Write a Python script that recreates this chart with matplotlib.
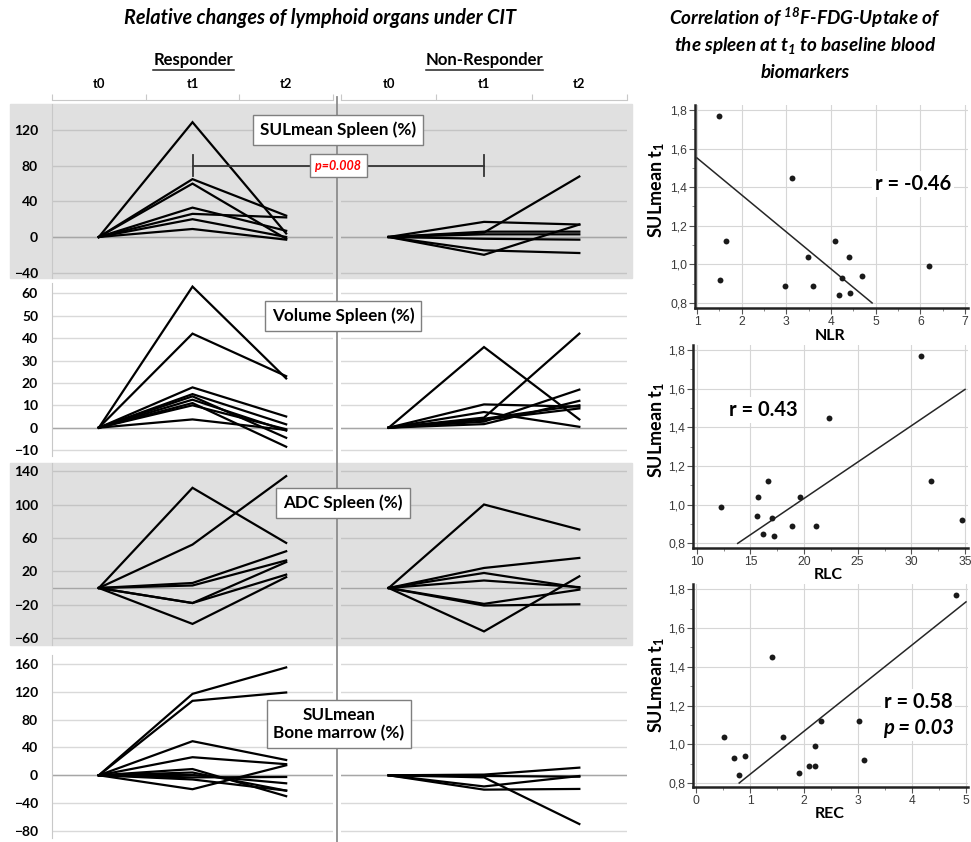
import matplotlib
matplotlib.use("Agg")
import matplotlib.pyplot as plt
from matplotlib.patches import Rectangle
from matplotlib.lines import Line2D
from matplotlib.ticker import FuncFormatter, MultipleLocator

plt.rcParams['font.family'] = ['Lato', 'DejaVu Sans']
plt.rcParams['mathtext.fontset'] = 'custom'
plt.rcParams['mathtext.rm'] = 'Lato'
plt.rcParams['mathtext.bf'] = 'Lato:bold'
plt.rcParams['mathtext.it'] = 'Lato:italic'
plt.rcParams['mathtext.bfit'] = 'Lato:bold:italic'

# ---------------- data ----------------
timepoints = ['t0', 't1', 't2']
groups = ['Responder', 'Non-Responder']
panel_titles = ['SULmean Spleen (%)', 'Volume Spleen (%)', 'ADC Spleen (%)',
                'SULmean\nBone marrow (%)']

sul_spleen_resp = [[0, 129, 4], [0, 65, 24], [0, 60, -2], [0, 33, 7],
                   [0, 26, 22], [0, 20, 0], [0, 9, -3]]
sul_spleen_nonresp = [[0, 17, 14], [0, 5, 68], [0, -20, 14], [0, -15, -18],
                      [0, 6, 6], [0, 3, 3], [0, -2, -3]]

volume_resp = [[0, 63, 22], [0, 42, 23], [0, 18, 5], [0, 15, 1.5], [0, 14, -4.5],
               [0, 12.5, -1.3], [0, 11, -8.5], [0, 10, -0.7], [0, 3.7, -1]]
volume_nonresp = [[0, 36, 3.7], [0, 4.5, 42], [0, 10.4, 9.4], [0, 7, 0.4],
                  [0, 2.7, 17], [0, 1.6, 12], [0, 4, 10], [0, 3.5, 8.6]]

adc_resp = [[0, 120, 54], [0, 52, 134], [0, 6, 44], [0, 3, 33],
            [0, -18, 31], [0, -18, 16], [0, -43, 13]]
adc_nonresp = [[0, 100, 70], [0, 24, 36], [0, 18, 0.4], [0, 9, 1],
               [0, -19, -2], [0, -21, -19.5], [0, -52, 14]]

bm_resp = [[0, 117, 155], [0, 107, 119], [0, 49, 22], [0, 26, 16], [0, 9, -30],
           [0, 4, -22], [0, 0.5, -11.5], [0, -3, -2.4], [0, -20, 14.4], [0, -6, -22]]
bm_nonresp = [[0, 1, 11], [0, -3, -70], [0, -16, -1], [0, -20.6, -19.6], [0, -1, -2]]

row_ticks = [[-40, 0, 40, 80, 120],
             [-10, 0, 10, 20, 30, 40, 50, 60],
             [-60, -20, 20, 60, 100, 140],
             [-80, -40, 0, 40, 80, 120, 160]]

p_label = 'p=0.008'
p_level = 80

# scatter data (baseline blood biomarkers vs SULmean t1)
nlr = [1.50, 3.13, 1.65, 1.52, 2.96, 3.49, 3.60, 4.10, 4.40, 4.25, 4.70, 4.19, 4.43, 6.19]
nlr_sul = [1.77, 1.45, 1.12, 0.92, 0.89, 1.04, 0.89, 1.12, 1.04, 0.93, 0.94, 0.84, 0.85, 0.99]
rlc = [12.3, 15.6, 15.7, 16.6, 16.2, 17.0, 17.2, 18.9, 19.6, 21.1, 22.3, 30.9, 31.8, 34.7]
rlc_sul = [0.99, 0.94, 1.04, 1.12, 0.85, 0.93, 0.84, 0.89, 1.04, 0.89, 1.45, 1.77, 1.12, 0.92]
rec = [0.51, 0.71, 0.91, 0.80, 1.40, 1.62, 1.90, 2.10, 2.21, 2.21, 2.31, 3.01, 3.11, 4.81]
rec_sul = [1.04, 0.93, 0.94, 0.84, 1.45, 1.04, 0.85, 0.89, 0.89, 0.99, 1.12, 1.12, 0.92, 1.77]

# regression lines: (intercept, slope, x_start, x_end)
nlr_fit = (1.743, -0.1916, 1.0, 4.92)
rlc_fit = (0.280, 0.0376, 13.82, 35.0)
rec_fit = (0.622, 0.2226, 0.80, 5.0)

scatter_xlabels = ['NLR', 'RLC', 'REC']
r_texts = ['r = -0.46', 'r = 0.43', 'r = 0.58']

# ---------------- layout helpers ----------------
W, H = 971, 842
fig = plt.figure(figsize=(W / 100, H / 100), dpi=100)


def rect(x0, y0, x1, y1):
    return [x0 / W, 1 - y1 / H, (x1 - x0) / W, (y1 - y0) / H]


def fx(x):
    return x / W


def fy(y):
    return 1 - y / H


GRAY_BG = '#e0e0e0'

# ---------------- titles ----------------
fig.text(fx(320), fy(18), 'Relative changes of lymphoid organs under CIT',
         ha='center', va='center', fontsize=14.3, fontweight='bold', style='italic')
right_title = ['Correlation of $^{\\mathbfit{18}}$F-FDG-Uptake of',
               'the spleen at t$_{\\mathbfit{1}}$ to baseline blood',
               'biomarkers']
for i, line in enumerate(right_title):
    fig.text(fx(805), fy(18 + 27 * i), line, ha='center', va='center',
             fontsize=13.6, fontweight='bold', style='italic')

grp_x = [(52, 333), (341, 627)]
for (x0, x1), g in zip(grp_x, groups):
    cx = (x0 + x1) / 2 + 0.5
    fig.text(fx(cx), fy(60), g, ha='center', va='center',
             fontsize=12, fontweight='bold')
    fig.add_artist(Line2D([fx(cx - len(g) * 4.5), fx(cx + len(g) * 4.5)],
                          [fy(70), fy(70)], color='#222222', lw=1.1))
    hax = fig.add_axes(rect(x0, 100, x1, 106))
    hax.set_xlim(-0.5, 2.5)
    hax.set_ylim(0, 1)
    hax.patch.set_alpha(0)
    for s in ['left', 'right', 'bottom']:
        hax.spines[s].set_visible(False)
    hax.spines['top'].set_color('#c8c8c8')
    hax.xaxis.tick_top()
    hax.set_xticks([-0.5, 0.5, 1.5, 2.5])
    hax.set_xticklabels([])
    hax.set_xticks([0, 1, 2], minor=True)
    hax.set_xticklabels(timepoints, minor=True, fontsize=9.3, fontweight='bold')
    hax.tick_params(axis='x', which='major', length=4, color='#c8c8c8', direction='out')
    hax.tick_params(axis='x', which='minor', length=0, pad=7)
    hax.set_yticks([])

# ---------------- left line panels ----------------
rows = [
    dict(top=104, bottom=278, zero=237.0, unit=0.89, gray=True,
         data=(sul_spleen_resp, sul_spleen_nonresp), label_xy=(338, 130)),
    dict(top=283, bottom=456, zero=427.7, unit=2.24, gray=False,
         data=(volume_resp, volume_nonresp), label_xy=(343, 316)),
    dict(top=463, bottom=645, zero=588.0, unit=0.835, gray=True,
         data=(adc_resp, adc_nonresp), label_xy=(343, 503)),
    dict(top=655, bottom=838, zero=775.3, unit=0.696, gray=False,
         data=(bm_resp, bm_nonresp), label_xy=(339, 724)),
]

row_axes = []
for ri, row in enumerate(rows):
    if row['gray']:
        fig.add_artist(Rectangle((fx(10), fy(row['bottom'])), fx(632) - fx(10),
                                 fy(row['top']) - fy(row['bottom']),
                                 transform=fig.transFigure, color=GRAY_BG, zorder=0))
    ylim = ((row['zero'] - row['bottom']) / row['unit'], (row['zero'] - row['top']) / row['unit'])
    grid_c = '#c4c4c4' if row['gray'] else '#d9d9d9'
    axs = []
    for gi, (x0, x1) in enumerate(grp_x):
        ax = fig.add_axes(rect(x0, row['top'], x1, row['bottom']))
        ax.patch.set_alpha(0)
        ax.set_xlim(-0.5, 2.5)
        ax.set_ylim(*ylim)
        for s in ['top', 'right', 'bottom']:
            ax.spines[s].set_visible(False)
        ax.spines['left'].set_color('#c8c8c8' if gi == 0 else '#00000000')
        ax.set_xticks([])
        ax.set_yticks(row_ticks[ri])
        for tv in row_ticks[ri]:
            ax.axhline(tv, color=grid_c, lw=1.0, zorder=1)
        ax.axhline(0, color='#a6a6a6', lw=1.0, zorder=1)
        if gi == 0:
            ax.tick_params(axis='y', length=0, pad=10, labelsize=10)
            for lab in ax.get_yticklabels():
                lab.set_fontweight('bold')
        else:
            ax.tick_params(axis='y', length=0, labelleft=False)
        for series in row['data'][gi]:
            ax.plot([0, 1, 2], series, color='black', lw=1.6, zorder=3,
                    solid_joinstyle='miter')
        axs.append(ax)
    row_axes.append(axs)
    lx, ly = row['label_xy']
    fig.text(fx(lx), fy(ly), panel_titles[ri], ha='center', va='center', fontsize=12.3,
             fontweight='bold', linespacing=1.2, zorder=10,
             bbox=dict(boxstyle='square,pad=0.4', fc='white', ec='#7f7f7f', lw=1.0))

# significance bracket in the first row (between Responder t1 and Non-Responder t1)
ax_r, ax_n = row_axes[0]
x_a = ax_r.transData.transform((1, p_level))
x_b = ax_n.transData.transform((1, p_level))
inv = fig.transFigure.inverted()
pa = inv.transform(x_a)
pb = inv.transform(x_b)
tick_h = 10.5 / H
fig.add_artist(Line2D([pa[0], pb[0]], [pa[1], pb[1]], color='#333333', lw=1.3, zorder=8))
for px in (pa, pb):
    fig.add_artist(Line2D([px[0], px[0]], [px[1] - tick_h, px[1] + tick_h],
                          color='#333333', lw=1.3, zorder=8))
fig.text((pa[0] + pb[0]) / 2, pa[1], p_label, ha='center', va='center', color='#ff0000',
         fontsize=9, fontweight='bold', style='italic', zorder=12,
         bbox=dict(boxstyle='square,pad=0.45', fc='white', ec='#7f7f7f', lw=1.0))

# divider
fig.add_artist(Line2D([fx(337), fx(337)], [fy(97), fy(842)], color='#8c8c8c', lw=1.3, zorder=9))

# ---------------- right scatter panels ----------------
scatters = [
    dict(box=(695, 105, 968, 308), xa=(1, 697.0), xb=(7, 965.0), ya=(0.8, 303.0), yb=(1.8, 110.0),
         x=nlr, y=nlr_sul, fit=nlr_fit, xmajor=1, xminor=0.5,
         xlabel_xy=(830, 336), ylabel_xy=(657, 190), r_xy=(913, 184), p=None),
    dict(box=(693, 345, 968, 548), xa=(10, 696.7), xb=(35, 965.0), ya=(0.8, 543.3), yb=(1.8, 350.0),
         x=rlc, y=rlc_sul, fit=rlc_fit, xmajor=5, xminor=2.5,
         xlabel_xy=(828, 575), ylabel_xy=(657, 430), r_xy=(763, 410), p=None),
    dict(box=(693, 584, 968, 787), xa=(0, 696.0), xb=(5, 966.0), ya=(0.8, 783.0), yb=(1.8, 589.3),
         x=rec, y=rec_sul, fit=rec_fit, xmajor=1, xminor=0.5,
         xlabel_xy=(830, 814), ylabel_xy=(657, 685), r_xy=(918, 702), p=(918, 728)),
]

comma = FuncFormatter(lambda v, pos: ('%.1f' % v).replace('.', ','))
for si, sc in enumerate(scatters):
    x0, y0, x1, y1 = sc['box']
    ax = fig.add_axes(rect(x0, y0, x1, y1))
    (xva, xpa), (xvb, xpb) = sc['xa'], sc['xb']
    ppx = (xpb - xpa) / (xvb - xva)
    ax.set_xlim(xva - (xpa - x0) / ppx, xva + (x1 - xpa) / ppx)
    (yva, ypa), (yvb, ypb) = sc['ya'], sc['yb']
    ppy = (ypa - ypb) / (yvb - yva)
    ax.set_ylim(yva - (y1 - ypa) / ppy, yva + (ypa - y0) / ppy)
    for s in ['top', 'right']:
        ax.spines[s].set_visible(False)
    for s in ['left', 'bottom']:
        ax.spines[s].set_linewidth(1.8)
        ax.spines[s].set_color('#222222')
    ax.xaxis.set_major_locator(MultipleLocator(sc['xmajor']))
    ax.xaxis.set_minor_locator(MultipleLocator(sc['xminor']))
    ax.yaxis.set_major_locator(MultipleLocator(0.2))
    ax.yaxis.set_minor_locator(MultipleLocator(0.1))
    ax.yaxis.set_major_formatter(comma)
    ax.grid(True, which='major', color='#d6d6d6', lw=0.8)
    ax.set_axisbelow(True)
    ax.tick_params(which='major', length=4, width=0.8, color='#555555',
                   labelsize=8.7, labelcolor='#3a3a3a', pad=1.5)
    for lab in ax.get_xticklabels() + ax.get_yticklabels():
        lab.set_family(['Liberation Sans', 'DejaVu Sans'])
    ax.tick_params(which='minor', length=2, width=0.6, color='#777777')
    ax.scatter(sc['x'], sc['y'], s=18, color='#1a1a1a', zorder=4, linewidths=0)
    b0, b1, xs, xe = sc['fit']
    ax.plot([xs, xe], [b0 + b1 * xs, b0 + b1 * xe], color='#262626', lw=1.1, zorder=3)
    fig.text(fx(sc['xlabel_xy'][0]), fy(sc['xlabel_xy'][1]), scatter_xlabels[si],
             ha='center', va='center', fontsize=11.5, fontweight='bold')
    fig.text(fx(sc['ylabel_xy'][0]), fy(sc['ylabel_xy'][1]), 'SULmean t$_{\\mathbf{1}}$',
             ha='center', va='center', fontsize=13, fontweight='bold', rotation=90)
    fig.text(fx(sc['r_xy'][0]), fy(sc['r_xy'][1]), r_texts[si], ha='center', va='center',
             fontsize=14.5, fontweight='bold', zorder=10,
             bbox=dict(boxstyle='square,pad=0.15', fc='white', ec='none'))
    if sc['p']:
        fig.text(fx(sc['p'][0]), fy(sc['p'][1]), 'p = 0.03', ha='center', va='center',
                 fontsize=14.5, fontweight='bold', style='italic', zorder=10,
                 bbox=dict(boxstyle='square,pad=0.15', fc='white', ec='none'))

fig.savefig('out.png', dpi=100)
